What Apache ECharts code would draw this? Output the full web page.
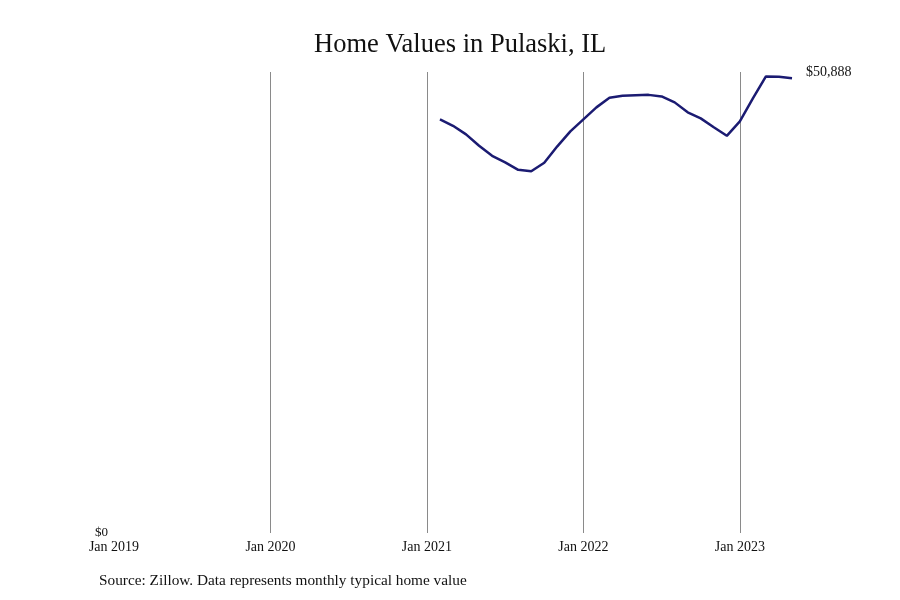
<!DOCTYPE html>
<html>
<head>
<meta charset="utf-8">
<script src="https://cdn.jsdelivr.net/npm/echarts@6/dist/echarts.min.js"></script>
<style>html,body{margin:0;padding:0;background:#fff;}#c{width:900px;height:600px;}</style>
</head>
<body>
<div id="c"></div>
<script>
// Months since Jan 2019 (0 = Jan 2019)
const months = [25,26,27,28,29,30,31,32,33,34,35,36,37,38,39,40,41,42,43,44,45,46,47,48,49,50,51,52];
const values = [46300,45580,44620,43340,42220,41490,40650,40490,41440,43280,44960,46300,47640,48710,48930,48990,49040,48870,48200,47090,46410,45410,44460,46080,48650,51110,51060,50888];
const yearTicks = ['Jan 2019','Jan 2020','Jan 2021','Jan 2022','Jan 2023'];
const titleText = 'Home Values in Pulaski, IL';
const sourceText = 'Source: Zillow. Data represents monthly typical home value';

const serif = '"Liberation Serif", "DejaVu Serif", serif';
const chart = echarts.init(document.getElementById('c'));
chart.setOption({
  animation: false,
  backgroundColor: '#fff',
  title: {
    text: titleText, left: 309, top: 27,
    textStyle: {fontFamily: serif, fontSize: 26.5, fontWeight: 'normal', color: '#111'}
  },
  graphic: [{
    type: 'text', left: 99, top: 573,
    style: {text: sourceText, fontFamily: serif, fontSize: 15.3, fill: '#111'}
  }],
  grid: {left: 114, right: 108, top: 72, bottom: 67},
  xAxis: {
    type: 'value', min: 0, max: 52, interval: 12,
    axisLine: {show: false}, axisTick: {show: false},
    splitLine: {show: true, showMinLine: false, showMaxLine: false, lineStyle: {color: '#8a8a8a', width: 1}},
    axisLabel: {
      margin: 7, fontFamily: serif, fontSize: 14, color: '#111',
      formatter: v => (v % 12 === 0 ? (yearTicks[v / 12] || '') : '')
    }
  },
  yAxis: {
    type: 'value', min: 0, max: 51600, interval: 51600,
    axisLine: {show: false}, axisTick: {show: false}, splitLine: {show: false},
    axisLabel: {
      margin: 6, fontFamily: serif, fontSize: 13, color: '#111', verticalAlign: 'middle',
      formatter: v => v === 0 ? '$0' : ''
    }
  },
  series: [{
    type: 'line',
    data: months.map((m, i) => [m, values[i]]),
    showSymbol: false,
    lineStyle: {color: '#1b1b72', width: 2.5},
    itemStyle: {color: '#1b1b72'},
    endLabel: {
      show: true, fontFamily: serif, fontSize: 14, color: '#111', distance: 14, offset: [0, -6],
      formatter: p => '$' + p.value[1].toLocaleString('en-US')
    }
  }]
});
</script>
</body>
</html>
